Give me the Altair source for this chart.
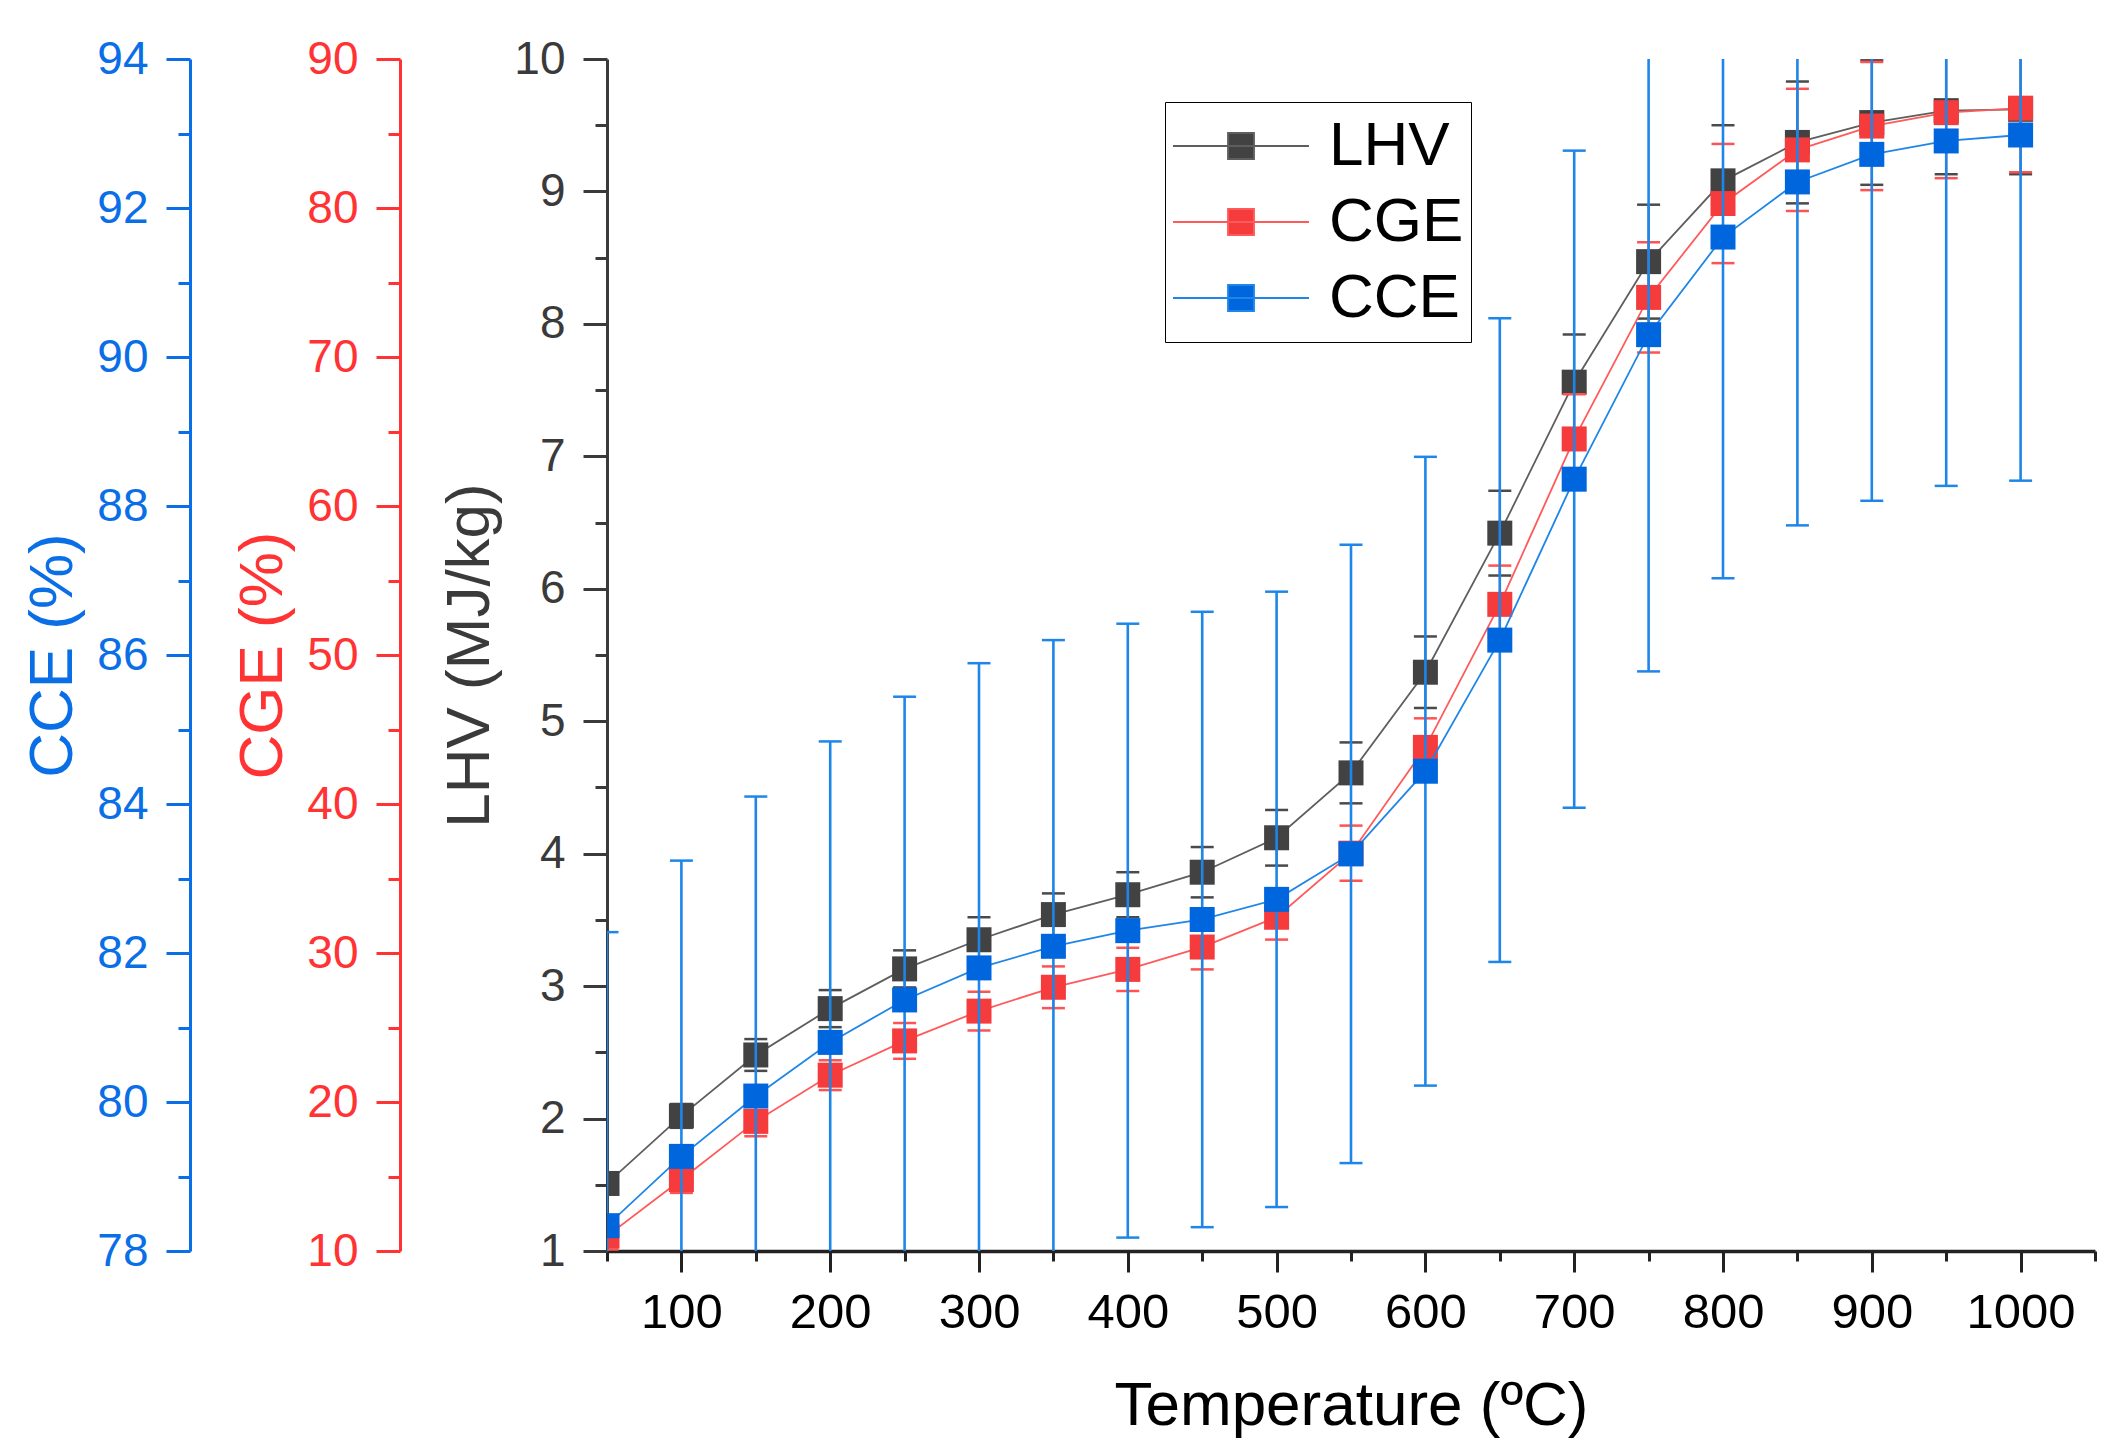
import altair as alt
import pandas as pd

FONT = "Liberation Sans"

# ---------------- data ----------------
temps = [50, 100, 150, 200, 250, 300, 350, 400, 450, 500,
         550, 600, 650, 700, 750, 800, 850, 900, 950, 1000]

lhv = [1.51, 2.02, 2.48, 2.83, 3.13, 3.35, 3.54, 3.69, 3.86, 4.12,
       4.61, 5.37, 6.42, 7.56, 8.47, 9.08, 9.37, 9.52, 9.61, 9.62]
lhv_err = [0.08, 0.09, 0.12, 0.14, 0.14, 0.17, 0.16, 0.17, 0.19, 0.21,
           0.23, 0.27, 0.32, 0.36, 0.43, 0.42, 0.46, 0.47, 0.48, 0.49]

cge = [11.0, 14.8, 18.7, 21.8, 24.1, 26.1, 27.7, 28.9, 30.4, 32.4,
       36.7, 43.8, 53.4, 64.5, 74.0, 80.3, 83.9, 85.5, 86.4, 86.7]
cge_err = [0.9, 0.9, 1.0, 1.0, 1.2, 1.3, 1.4, 1.45, 1.5, 1.5,
           1.85, 1.95, 2.6, 3.0, 3.7, 4.0, 4.1, 4.3, 4.4, 4.3]

cce = [78.34, 79.27, 80.08, 80.80, 81.37, 81.80, 82.09, 82.30, 82.45, 82.72,
       83.33, 84.44, 86.20, 88.36, 90.30, 91.61, 92.35, 92.72, 92.90, 92.98]
cce_err = [3.94, 3.97, 4.02, 4.04, 4.07, 4.09, 4.11, 4.12, 4.13, 4.13,
           4.15, 4.22, 4.32, 4.41, 4.52, 4.58, 4.61, 4.65, 4.63, 4.64]

series = ["LHV", "CGE", "CCE"]
pt_colors = ["#424242", "#f53b3b", "#0066dd"]
line_colors = ["#5e5e5e", "#ff5a5a", "#1e86e8"]


def frame(name, vals, errs):
    return pd.DataFrame({
        "T": temps,
        "v": vals,
        "lo": [a - b for a, b in zip(vals, errs)],
        "hi": [a + b for a, b in zip(vals, errs)],
        "s": [name] * len(temps),
    })


df_lhv = frame("LHV", lhv, lhv_err)
df_cge = frame("CGE", cge, cge_err)
df_cce = frame("CCE", cce, cce_err)

W, H = 1488, 1192

x_axis = alt.Axis(
    values=list(range(50, 1051, 50)),
    labelExpr="datum.value % 100 === 0 ? format(datum.value, 'd') : ''",
    tickSize={"condition": {"test": "datum.value % 100 === 0", "value": 21}, "value": 10},
    domainColor="#222222", tickColor="#222222", domainWidth=3.5, tickWidth=3,
    labelFont=FONT, labelFontSize=49, labelColor="black", labelPadding=16,
    labelFlush=False, labelOverlap=False, grid=False,
    title="Temperature (\u00baC)", titleFont=FONT, titleFontSize=62,
    titleFontWeight="normal", titleColor="black",
    titleX=W / 2, titleY=173, titleBaseline="alphabetic", titleAlign="center",
)
X = alt.X("T:Q", scale=alt.Scale(domain=[50, 1050], nice=False, zero=False), axis=x_axis)


def y_axis(values, test, color, title, offset):
    return alt.Axis(
        orient="left", offset=offset, values=values,
        labelExpr=f"{test} ? format(datum.value, 'd') : ''",
        tickSize={"condition": {"test": test, "value": 24}, "value": 12},
        domainColor=color, tickColor=color, labelColor=color, titleColor=color,
        domainWidth=3, tickWidth=3,
        labelFont=FONT, labelFontSize=46, labelPadding=18,
        labelFlush=False, labelOverlap=False, grid=False,
        title=title, titleFont=FONT, titleFontSize=62, titleFontWeight="normal",
        titleX=-138, titleY=H / 2, titleAngle=-90, titleAlign="center",
        titleBaseline="middle",
    )


LEG_PATH = "M-1,0L1,0M-0.19,-0.19L0.19,-0.19L0.19,0.19L-0.19,0.19Z"
legend = alt.Legend(
    title=None, orient="none", legendX=558, legendY=43,
    symbolType=LEG_PATH, symbolSize=136 * 136, symbolStrokeWidth=2,
    labelFont=FONT, labelFontSize=62, labelColor="black", labelOffset=19,
    clipHeight=74, rowPadding=2,
    padding=7, strokeColor="black", fillColor="white",
)
COLOR = alt.Color("s:N", scale=alt.Scale(domain=series, range=pt_colors), legend=legend)
STROKE = alt.Stroke("s:N", scale=alt.Scale(domain=series, range=line_colors), legend=legend)


def group(df, domain, axis, err_color, err_width, cap_color):
    sc = alt.Scale(domain=domain, nice=False, zero=False)

    def Y(f):
        return alt.Y(f"{f}:Q", scale=sc, axis=axis)

    base = alt.Chart(df)
    rule = base.mark_rule(color=err_color, strokeWidth=err_width, clip=True).encode(
        x=X, y=Y("lo"), y2="hi:Q")
    cap_lo = base.mark_tick(orient="horizontal", size=23, thickness=2.5,
                            color=cap_color, opacity=1, clip=True).encode(x=X, y=Y("lo"))
    cap_hi = base.mark_tick(orient="horizontal", size=23, thickness=2.5,
                            color=cap_color, opacity=1, clip=True).encode(x=X, y=Y("hi"))
    line = base.mark_line(strokeWidth=1.8, clip=True).encode(x=X, y=Y("v"), stroke=STROKE)
    pts = base.mark_square(size=625, opacity=1, filled=True, strokeWidth=0, clip=True).encode(
        x=X, y=Y("v"), color=COLOR)
    return alt.layer(rule, cap_lo, cap_hi, line, pts)


lhv_vals = [1 + 0.5 * i for i in range(19)]
cge_vals = list(range(10, 91, 5))
cce_vals = list(range(78, 95, 1))

g_lhv = group(df_lhv, [1, 10],
              y_axis(lhv_vals, "datum.value % 1 === 0", "#3a3a3a", "LHV (MJ/kg)", 0),
              "#5a5a5a", 2, "#4a4a4a")
g_cge = group(df_cge, [10, 90],
              y_axis(cge_vals, "datum.value % 10 === 0", "#ff3333", "CGE (%)", 207),
              "#ff5a5a", 2, "#ff5252")
g_cce = group(df_cce, [78, 94],
              y_axis(cce_vals, "datum.value % 2 === 0", "#0a6ee6", "CCE (%)", 417),
              "#1e86e8", 2.6, "#1e86e8")

chart = (
    alt.layer(g_lhv, g_cge, g_cce)
    .resolve_scale(y="independent")
    .properties(width=W, height=H,
                padding={"left": 13, "top": 28, "right": 10, "bottom": 4})
    .configure_view(stroke=None)
)

chart.save("out.html", embed_options={"renderer": "svg", "actions": False})
